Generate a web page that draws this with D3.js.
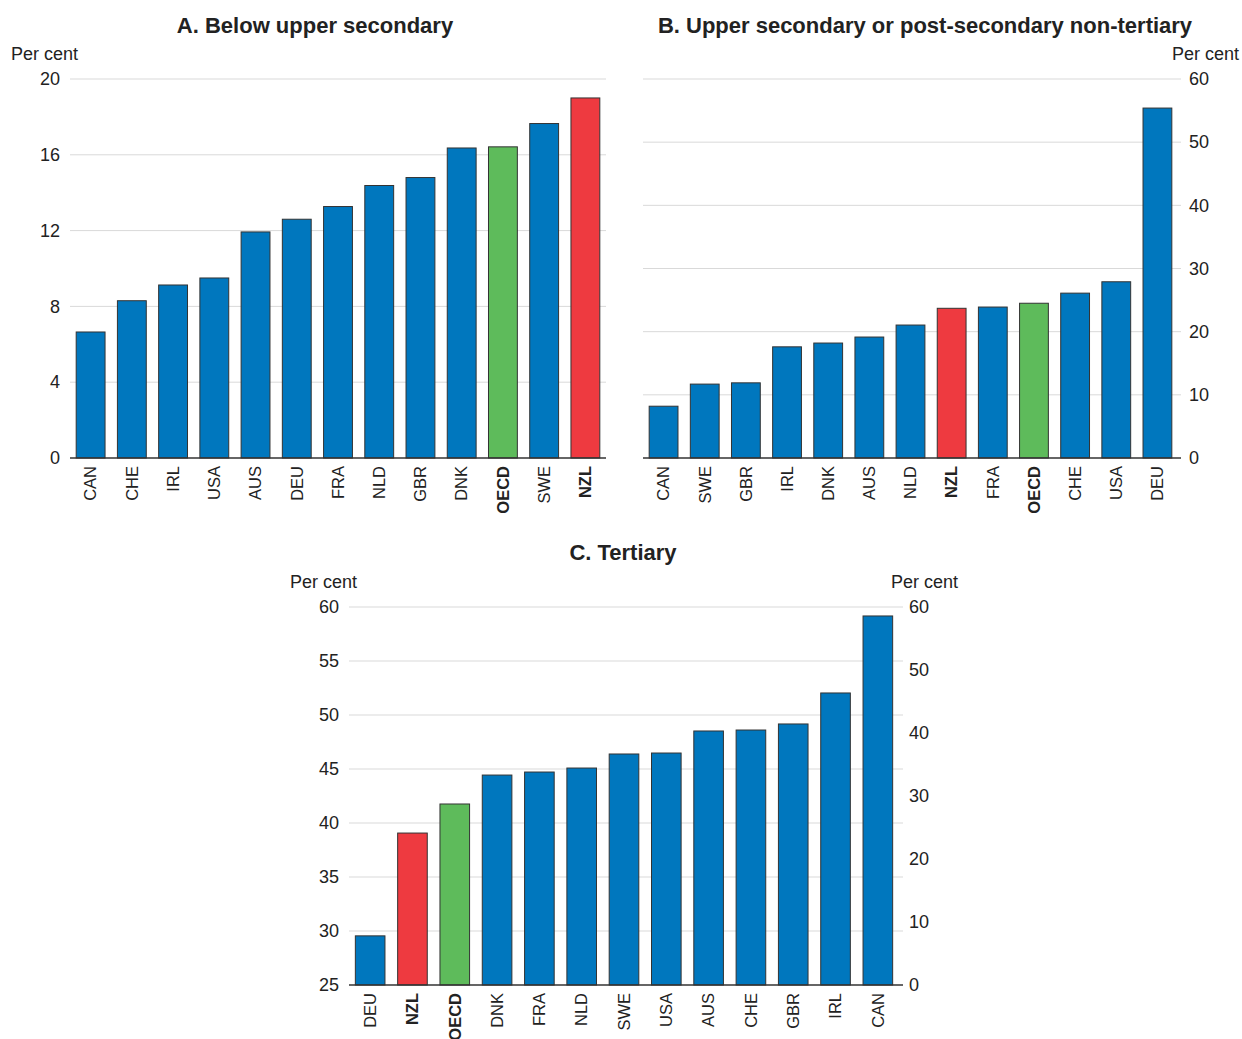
<!DOCTYPE html>
<html><head><meta charset="utf-8">
<script src="https://cdn.jsdelivr.net/npm/d3@7"></script>
<style>
body{margin:0;background:#fff;}
text{font-family:"Liberation Sans",Arial,sans-serif;fill:#222;}
</style></head>
<body>
<svg id="c" width="1242" height="1039"></svg>
<script>
// Panel A: Below upper secondary
const catsA = ["CAN","CHE","IRL","USA","AUS","DEU","FRA","NLD","GBR","DNK","OECD","SWE","NZL"];
const valsA = [6.65,8.3,9.13,9.5,11.93,12.6,13.27,14.38,14.8,16.36,16.42,17.65,19.0];
const ticksA = [0,4,8,12,16,20];
// Panel B: Upper secondary or post-secondary non-tertiary
const catsB = ["CAN","SWE","GBR","IRL","DNK","AUS","NLD","NZL","FRA","OECD","CHE","USA","DEU"];
const valsB = [8.2,11.7,11.9,17.6,18.2,19.15,21.05,23.7,23.9,24.5,26.1,27.9,55.4];
const ticksB = [0,10,20,30,40,50,60];
// Panel C: Tertiary
const catsC = ["DEU","NZL","OECD","DNK","FRA","NLD","SWE","USA","AUS","CHE","GBR","IRL","CAN"];
const valsC = [29.55,39.07,41.76,44.44,44.72,45.09,46.39,46.48,48.52,48.61,49.17,52.04,59.17];
const ticksCLeft = [25,30,35,40,45,50,55,60];
const ticksCRight = [0,10,20,30,40,50,60];

const svg = d3.select("#c");
const BLUE="#0077be", RED="#ee3a40", GREEN="#5ebb5b";
function colorOf(c){return c==="NZL"?RED:(c==="OECD"?GREEN:BLUE);}

function panel(o){
  const x = d3.scaleBand().domain(o.cats).range([o.x0,o.x1]).paddingInner(0.3).paddingOuter(0.15);
  const y = d3.scaleLinear().domain(o.domain).range([o.yb,o.yt]);
  const g = svg.append("g");
  g.append("g").selectAll("line").data(o.ticks.filter(t=>t!==o.domain[0])).join("line")
    .attr("x1",o.x0).attr("x2",o.gx1).attr("y1",d=>y(d)).attr("y2",d=>y(d))
    .attr("stroke","#d9d9d9").attr("stroke-width",1);
  const ax = o.side==="left" ? d3.axisLeft(y) : d3.axisRight(y);
  const axG = g.append("g").attr("transform",`translate(${o.side==="left"?o.x0-8:o.gx1+6},0)`)
    .call(ax.tickValues(o.ticks).tickSize(0).tickPadding(2).tickFormat(d3.format("d")));
  axG.select(".domain").remove();
  axG.selectAll("text").style("font-size","18px").style("font-family","Liberation Sans, Arial, sans-serif").attr("fill","#222");
  g.append("g").selectAll("rect").data(o.cats).join("rect")
    .attr("x",d=>x(d)).attr("width",x.bandwidth())
    .attr("y",(d,i)=>y(o.vals[i])).attr("height",(d,i)=>o.yb-y(o.vals[i]))
    .attr("fill",d=>colorOf(d)).attr("stroke","#333").attr("stroke-width",1);
  g.append("line").attr("x1",o.x0).attr("x2",o.gx1).attr("y1",o.yb).attr("y2",o.yb)
    .attr("stroke","#333").attr("stroke-width",1.5);
  g.append("g").selectAll("text").data(o.cats).join("text")
    .attr("transform",d=>`translate(${x(d)+x.bandwidth()/2},${o.yb+8}) rotate(-90)`)
    .attr("text-anchor","end").attr("dy","0.35em")
    .style("font-size","16.5px")
    .style("font-weight",d=>(d==="NZL"||d==="OECD")?"bold":"normal")
    .text(d=>d);
  svg.append("text").attr("x",o.tx).attr("y",o.ty).attr("text-anchor","middle")
    .style("font-size","22px").style("font-weight","bold").text(o.title);
  return {x,y};
}

panel({cats:catsA,vals:valsA,ticks:ticksA,domain:[0,20],x0:70,x1:606,gx1:606,yb:458,yt:79,
  side:"left",title:"A. Below upper secondary",tx:315,ty:33});
svg.append("text").attr("x",11).attr("y",60).style("font-size","18px").text("Per cent");

panel({cats:catsB,vals:valsB,ticks:ticksB,domain:[0,60],x0:643,x1:1178,gx1:1181,yb:458,yt:79,
  side:"right",title:"B. Upper secondary or post-secondary non-tertiary",tx:925,ty:33});
svg.append("text").attr("x",1239).attr("y",60).attr("text-anchor","end").style("font-size","18px").text("Per cent");

panel({cats:catsC,vals:valsC,ticks:ticksCLeft,domain:[25,60],x0:349,x1:899,gx1:903,yb:985,yt:607,
  side:"left",title:"C. Tertiary",tx:623,ty:560});
const yR = d3.scaleLinear().domain([0,60]).range([985,607]);
const rG = svg.append("g").attr("transform","translate(909,0)")
  .call(d3.axisRight(yR).tickValues(ticksCRight).tickSize(0).tickPadding(0).tickFormat(d3.format("d")));
rG.select(".domain").remove();
rG.selectAll("text").style("font-size","18px").style("font-family","Liberation Sans, Arial, sans-serif").attr("fill","#222");
svg.append("text").attr("x",290).attr("y",588).style("font-size","18px").text("Per cent");
svg.append("text").attr("x",891).attr("y",588).style("font-size","18px").text("Per cent");
</script>
</body></html>
